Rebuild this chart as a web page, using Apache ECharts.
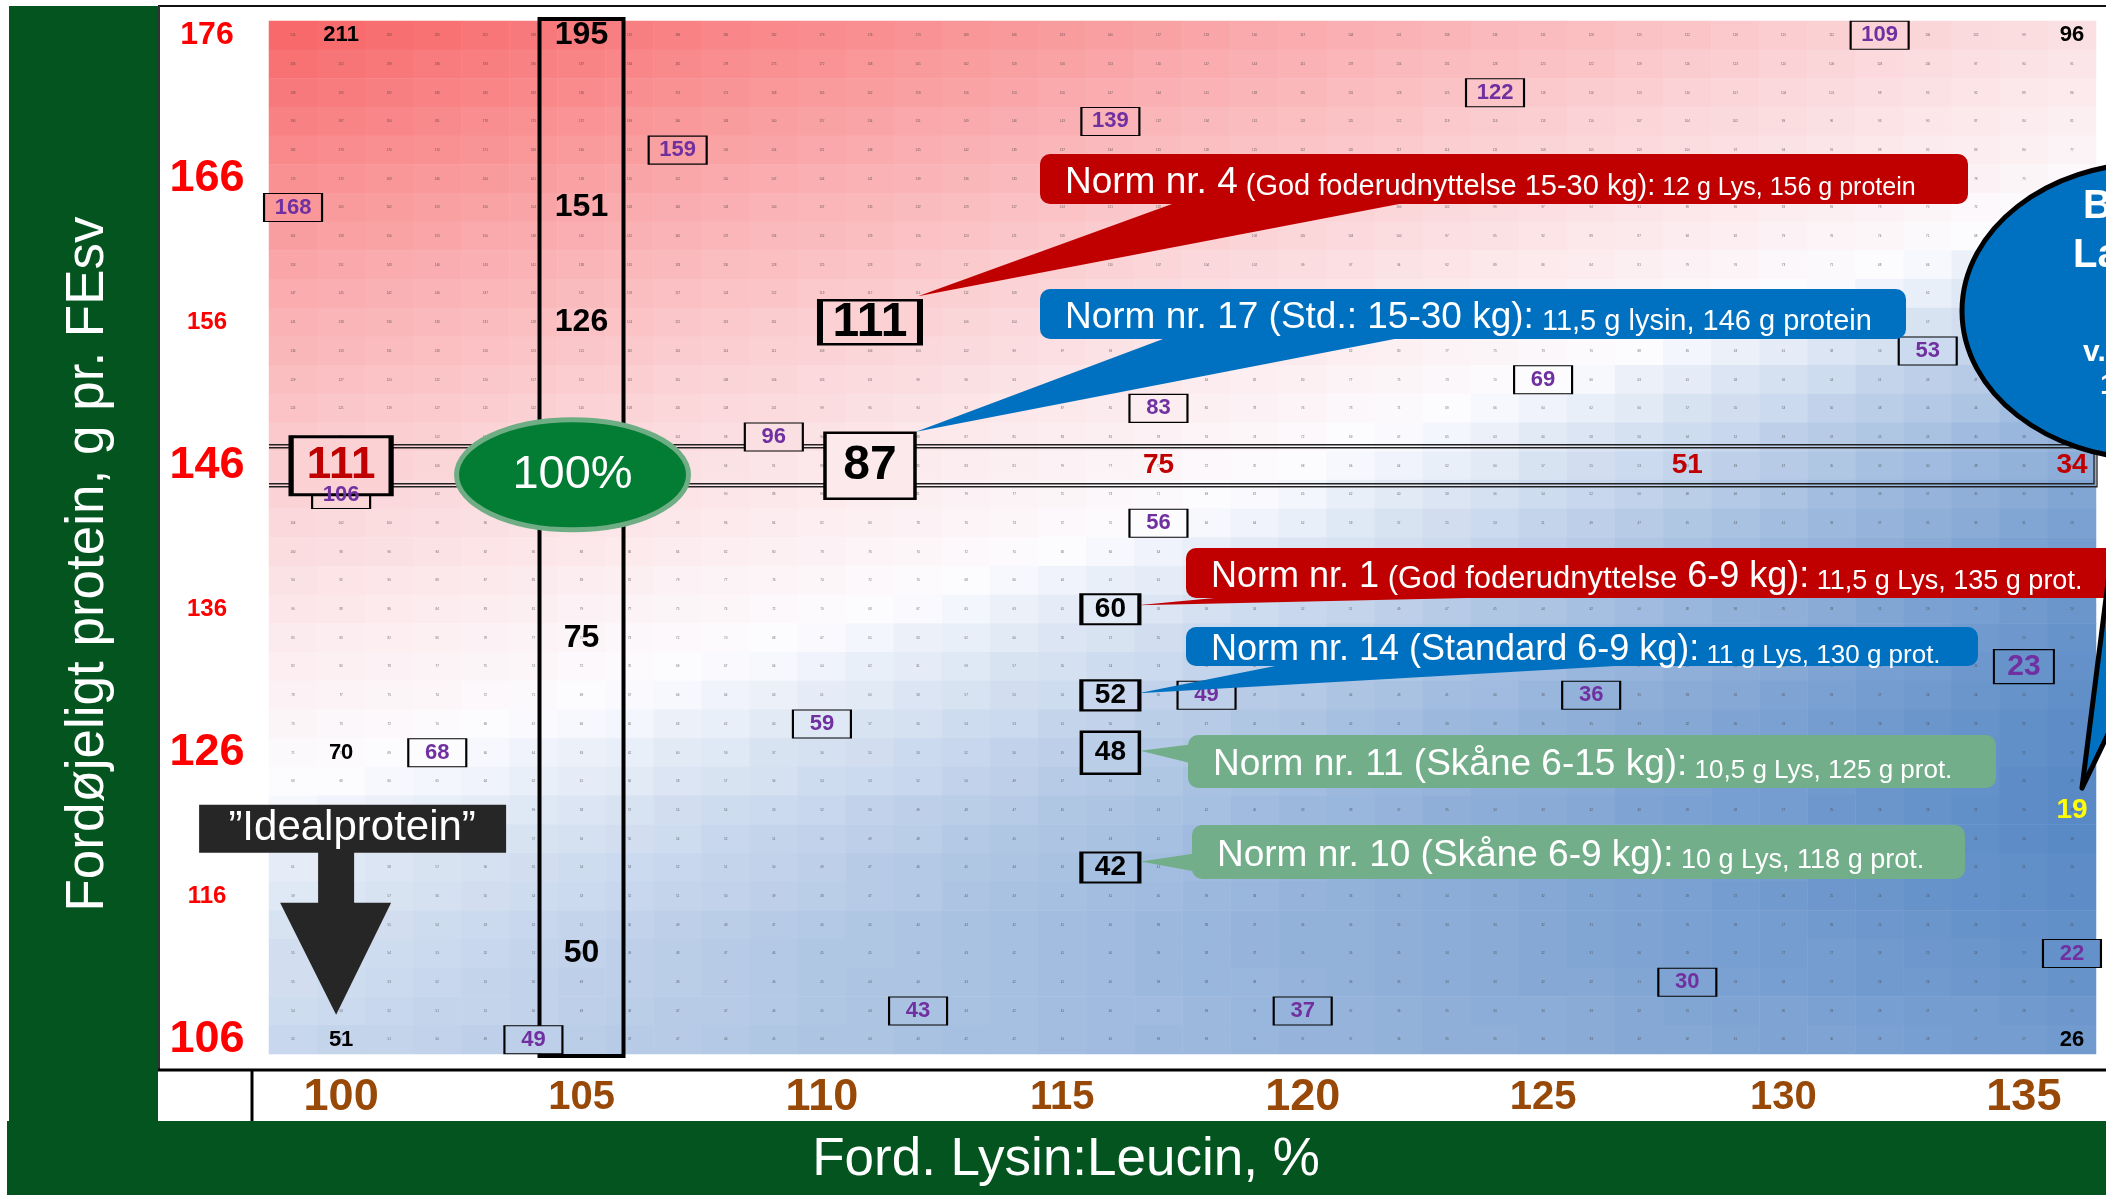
<!DOCTYPE html>
<html><head><meta charset="utf-8">
<script src="https://cdn.jsdelivr.net/npm/echarts@6/dist/echarts.min.js"></script>
<style>html,body{margin:0;padding:0;background:#fff}#c{width:2106px;height:1195px}</style>
</head><body><div id="c"></div>
<script>
// ---------- DATA ----------
const lysLeu = ['99','100','101','102','103','104','105','106','107','108','109','110','111','112','113','114','115','116','117','118','119','120','121','122','123','124','125','126','127','128','129','130','131','132','133','134','135','136'];
const proteinAxis = ['106','108','110','112','114','116','118','120','122','124','126','128','130','132','134','136','138','140','142','144','146','148','150','152','154','156','158','160','162','164','166','168','170','172','174','176'];
const rowProtein = [176,174,172,170,168,166,164,162,160,158,156,154,152,150,148,146,144,142,140,138,136,134,132,130,128,126,124,122,120,118,116,114,112,110,108,106];
// cell values, one row per protein level (top row = 176), columns = lysLeu
const cellValues = [
[214,211,208,205,201,198,195,192,189,185,182,179,176,173,169,166,163,160,157,153,150,147,144,141,138,134,131,128,125,122,118,115,112,109,106,102,99,96],
[206,202,199,196,193,190,187,184,181,178,175,172,168,165,162,159,156,153,150,147,144,141,137,134,131,128,125,122,119,116,113,110,106,103,100,97,94,91],
[198,195,192,189,186,183,180,177,174,171,168,165,162,159,156,153,150,147,144,141,138,135,131,128,125,122,119,116,113,110,107,104,101,98,95,92,89,86],
[190,187,184,181,178,175,172,169,166,163,160,157,154,151,149,146,143,140,137,134,131,128,125,122,119,116,113,110,107,104,102,99,96,93,90,87,84,81],
[182,179,176,174,171,168,165,162,159,156,154,151,148,145,142,139,137,134,131,128,125,122,120,117,114,111,108,105,103,100,97,94,91,88,85,83,80,77],
[175,172,169,166,164,161,158,155,152,150,147,144,141,139,136,133,130,127,125,122,119,116,114,111,108,105,103,100,97,94,91,89,86,83,80,78,75,72],
[168,165,162,159,156,154,151,148,146,143,140,137,135,132,129,127,124,121,118,116,113,110,108,105,102,99,97,94,91,89,86,83,81,78,75,72,70,67],
[161,158,156,153,150,148,145,142,140,137,134,132,129,126,124,121,119,116,113,111,108,105,103,100,97,95,92,89,87,84,82,79,76,74,71,68,66,63],
[153,151,148,146,143,141,138,135,133,130,128,125,123,120,117,115,112,110,107,104,102,99,97,94,92,89,86,84,81,79,76,73,71,68,66,63,61,58],
[147,145,142,140,137,135,132,129,127,124,122,119,117,114,112,109,107,104,102,99,97,94,92,89,87,84,82,79,77,74,72,69,67,64,62,59,57,54],
[141,138,136,133,131,128,126,124,121,119,116,114,111,109,106,104,101,99,97,94,92,89,87,84,82,79,77,75,72,70,67,65,62,60,57,55,52,50],
[136,133,131,128,126,123,121,119,116,114,111,109,106,104,102,99,97,94,92,90,87,85,82,80,77,75,73,70,68,65,63,61,58,56,53,51,48,46],
[129,127,124,122,120,117,115,113,110,108,106,103,101,99,96,94,91,89,87,84,82,80,77,75,73,70,69,66,63,61,58,56,54,51,49,47,44,42],
[124,121,119,117,115,112,110,108,105,103,101,99,96,94,92,89,87,85,83,80,78,76,73,71,69,66,64,62,60,57,55,53,50,48,46,44,41,39],
[118,116,114,112,109,107,105,103,101,98,96,94,92,89,87,85,83,81,78,76,74,72,69,67,65,63,60,58,56,54,52,49,47,45,43,40,38,36],
[113,111,109,106,104,102,100,98,96,94,91,89,87,85,83,81,79,77,75,72,70,68,66,64,62,60,57,55,53,51,49,47,45,42,40,38,36,34],
[109,106,104,102,100,98,96,94,92,90,88,86,83,81,79,77,75,73,71,69,67,65,62,60,58,56,54,52,50,48,46,44,41,39,37,35,33,31],
[104,102,100,98,96,94,92,90,88,86,84,82,80,78,76,74,72,70,68,66,64,62,59,57,55,53,51,49,47,45,43,41,39,37,35,33,31,29],
[100,98,96,94,92,90,88,86,84,82,80,78,76,74,72,70,68,66,64,62,60,58,57,55,53,51,49,47,45,43,41,39,37,35,33,31,29,27],
[94,92,90,89,87,85,83,81,79,77,76,74,72,70,68,66,64,62,61,59,57,55,53,51,49,47,46,44,42,40,38,36,34,32,31,29,27,25],
[90,88,86,84,83,81,79,77,75,74,72,70,68,67,65,63,61,60,58,56,54,52,51,49,47,45,44,42,40,38,36,35,33,31,29,28,26,24],
[85,83,82,80,78,77,75,73,72,70,68,67,65,63,62,60,58,57,55,53,52,50,48,46,45,43,41,40,38,36,35,33,31,30,28,26,25,23],
[82,80,78,77,75,74,72,70,69,67,66,64,62,61,59,57,56,54,53,51,49,48,46,45,43,41,40,38,37,35,33,32,30,28,27,25,23,22],
[78,77,75,74,72,71,69,67,66,64,63,61,60,58,57,55,54,52,50,49,47,46,44,43,41,40,38,36,35,33,32,30,29,27,26,24,23,21],
[75,73,72,70,69,67,66,65,63,62,60,59,57,56,54,53,51,50,48,47,45,44,42,41,39,38,36,35,33,32,30,29,27,26,24,23,21,20],
[71,70,69,68,66,64,63,62,60,59,57,56,55,53,52,50,49,48,46,45,43,42,41,39,38,36,35,34,32,31,29,28,27,25,24,22,21,20],
[69,68,66,65,64,62,61,60,58,57,56,54,53,52,50,49,47,46,45,43,42,41,39,38,37,35,34,33,31,30,28,27,26,24,23,22,20,19],
[66,64,63,62,61,59,58,57,55,54,53,52,50,49,48,47,45,44,43,42,40,39,38,37,35,34,33,32,30,29,28,27,25,24,23,21,20,19],
[63,62,61,60,58,57,56,55,54,52,51,50,49,48,46,45,44,43,42,40,39,38,37,36,35,33,32,31,30,29,27,26,25,24,23,21,20,19],
[61,59,58,57,56,55,54,53,52,51,50,49,47,46,45,44,43,42,41,40,39,38,36,35,34,33,32,31,30,29,28,27,25,24,23,22,21,20],
[59,58,57,56,55,54,53,52,51,50,49,48,47,46,44,43,42,41,40,39,38,37,36,35,34,33,32,31,30,29,27,26,25,24,23,22,21,20],
[57,56,55,54,53,52,51,50,49,48,47,46,45,44,43,42,41,40,39,38,37,36,36,35,34,33,32,31,30,29,28,27,26,25,24,23,22,21],
[55,55,54,53,52,51,50,49,48,47,46,45,45,44,43,42,41,40,39,38,37,36,36,35,34,33,32,31,30,29,28,27,27,26,25,24,23,22],
[55,54,53,52,51,50,49,49,48,47,46,45,44,44,43,42,41,40,39,38,38,37,36,35,34,33,32,32,31,30,29,28,27,26,26,25,24,23],
[54,53,52,51,51,50,49,48,47,47,46,45,44,43,43,42,41,40,40,39,38,37,37,36,35,34,34,33,32,31,30,30,29,28,27,27,26,25],
[52,51,51,50,49,49,48,47,47,46,45,44,44,43,42,42,41,40,39,39,38,37,37,36,35,35,34,33,32,32,31,30,30,29,28,27,27,26]
];
const xTickLabels = [100,105,110,115,120,125,130,135];
const yTickLabels = [106,116,126,136,146,156,166,176];
// highlighted numbers: [lys:leu, protein, value]
const purpleMarks = [[99,164,168],[107,168,159],[116,170,139],[124,172,122],[132,176,109],[109,148,96],[117,150,83],[125,152,69],[133,154,53],[117,142,56],[118,130,49],[110,128,59],[126,130,36],[136,112,22],[112,108,43],[120,108,37],[128,110,30],[102,126,68],[104,106,49],[100,144,106]];
const purpleLargeMarks = [[135,132,23]];
const plainMarks = [[100,176,211],[136,176,96],[100,126,70],[100,106,51],[136,106,26]];
const column105Marks = [[105,176,195],[105,164,151],[105,156,126],[105,134,75],[105,112,50]];
const norm4Mark = [[111,156,111]];
const norm17Mark = [[111,146,87]];
const smallNormMarks = [[116,136,60],[116,130,52],[116,118,42]];
const norm11Mark = [[116,126,48]];
const refRowMark = [[100,146,111]];
const refRowRedMarks = [[117,146,75],[128,146,51],[136,146,34]];
const minMark = [[136,122,19]];

// ---------- STYLE / BUILD ----------
const FONT = '"Liberation Sans", Arial, Helvetica, sans-serif';
const VMIN = 19, VMAX = 214;
const scaleHex = ['#5A8AC6','#FCFCFF','#FBCBCE','#F99A9C','#F8696B'];
const scaleRgb = scaleHex.map(h => [1,3,5].map(i => parseInt(h.substr(i,2),16)));
function scaleColor(v){
  let t = (v - VMIN) / (VMAX - VMIN); t = Math.max(0, Math.min(1, t));
  const s = t * (scaleRgb.length - 1); const i = Math.min(Math.floor(s), scaleRgb.length - 2); const f = s - i;
  const a = scaleRgb[i], b = scaleRgb[i+1];
  return 'rgb(' + a.map((c,k) => Math.round(c + (b[k]-c)*f)).join(',') + ')';
}
const xi = x => lysLeu.indexOf(String(x));
const yi = y => proteinAxis.indexOf(String(y));
const cellValue = (x,y) => cellValues[rowProtein.indexOf(y)][xi(x)];

const heatData = [];
rowProtein.forEach((p, r) => cellValues[r].forEach((v, c) => heatData.push([c, yi(p), v])));

function markSeries(marks, o){
  return {
    type:'scatter', z:10, silent:true, animation:false, symbol:'rect', symbolSize:o.box || [1,1],
    data: marks.map(m => [xi(m[0]), yi(m[1]), m[2], m[0], m[1]]),
    itemStyle:{ color: o.box ? (p => scaleColor(cellValue(p.value[3], p.value[4]))) : 'rgba(0,0,0,0)',
      borderColor:'#000', borderWidth:o.border || 0, opacity:1 },
    label:{ show:true, position:'inside', formatter:p => String(p.value[2]), color:o.color,
      fontSize:o.size, fontWeight:'bold', fontFamily:FONT },
    emphasis:{ disabled:true }
  };
}

const ySize = {'176':'mid','166':'big','156':'small','146':'big','136':'small','126':'big','116':'small','106':'big'};
const xSize = {'100':'big','105':'small','110':'big','115':'small','120':'big','125':'small','130':'small','135':'big'};

const chart = echarts.init(document.getElementById('c'), null, {renderer:'canvas', width:2106, height:1195});
const option = {
  animation:false,
  backgroundColor:'#fff',
  grid:{ left:269, right:10, top:21, bottom:141, containLabel:false },
  xAxis:{ type:'category', data:lysLeu, axisLine:{show:false}, axisTick:{show:false}, splitLine:{show:false},
    axisLabel:{ interval:(i,v) => xTickLabels.includes(Number(v)), margin:44, verticalAlign:'middle',
      formatter:v => '{' + xSize[v] + '|' + v + '}',
      rich:{ big:{fontSize:45,fontWeight:'bold',color:'#984807',fontFamily:FONT}, small:{fontSize:40,fontWeight:'bold',color:'#984807',fontFamily:FONT} } } },
  yAxis:{ type:'category', data:proteinAxis, axisLine:{show:false}, axisTick:{show:false}, splitLine:{show:false},
    axisLabel:{ interval:(i,v) => yTickLabels.includes(Number(v)), margin:62, align:'center',
      formatter:v => '{' + ySize[v] + '|' + v + '}',
      rich:{ big:{fontSize:45,fontWeight:'bold',color:'#FF0000',fontFamily:FONT}, mid:{fontSize:32,fontWeight:'bold',color:'#FF0000',fontFamily:FONT}, small:{fontSize:24,fontWeight:'bold',color:'#FF0000',fontFamily:FONT} } } },
  visualMap:{ type:'continuous', show:false, min:VMIN, max:VMAX, dimension:2, seriesIndex:0, inRange:{ color:scaleHex } },
  series:[
    { type:'heatmap', data:heatData, z:2, silent:true, itemStyle:{borderWidth:0},
      label:{ show:true, fontSize:3, color:'rgba(60,60,60,0.75)', fontFamily:FONT, formatter:p => String(p.value[2]) },
      emphasis:{disabled:true} },
    markSeries(purpleMarks, {box:[58,28], border:1.5, color:'#7030A0', size:22}),
    markSeries(purpleLargeMarks, {box:[60,34], border:1.5, color:'#7030A0', size:30}),
    markSeries(plainMarks, {color:'#000', size:22}),
    markSeries(column105Marks, {color:'#000', size:32}),
    markSeries(norm4Mark, {box:[100,44], border:4, color:'#000', size:48}),
    markSeries(norm17Mark, {box:[90,66], border:3, color:'#000', size:48}),
    markSeries(smallNormMarks, {box:[58,30], border:3, color:'#000', size:28}),
    markSeries(norm11Mark, {box:[58,42], border:3, color:'#000', size:28}),
    markSeries(refRowMark, {box:[100,58], border:4, color:'#C00000', size:44}),
    markSeries(refRowRedMarks, {color:'#C00000', size:28}),
    markSeries(minMark, {color:'#FFFF00', size:28})
  ]
};
chart.setOption(option);

// ---------- DECORATION (layout from pixel conversion) ----------
const P = (x,y) => chart.convertToPixel({gridIndex:0}, [xi(x), yi(y)]);
const cw = P(100,146)[0] - P(99,146)[0];
const ch = P(99,146)[1] - P(99,148)[1];
const gTop = P(99,176)[1] - ch/2, gBot = P(99,106)[1] + ch/2;
const gLeft = P(99,146)[0] - cw/2, gRight = P(136,146)[0] + cw/2;
const GREEN = '#03541F';
const g = [];
// frame
g.push({type:'rect', z:0, shape:{x:9,y:6,width:149,height:1189}, style:{fill:GREEN}});
g.push({type:'rect', z:0, shape:{x:7,y:1121,width:2099,height:74}, style:{fill:GREEN}});
g.push({type:'line', z:1, shape:{x1:158,y1:6,x2:2106,y2:6}, style:{stroke:'#111',lineWidth:2}});
g.push({type:'line', z:1, shape:{x1:159,y1:6,x2:159,y2:1071}, style:{stroke:'#333',lineWidth:2}});
g.push({type:'line', z:1, shape:{x1:158,y1:1070,x2:2106,y2:1070}, style:{stroke:'#000',lineWidth:3}});
g.push({type:'line', z:1, shape:{x1:252,y1:1070,x2:252,y2:1121}, style:{stroke:'#000',lineWidth:3}});
// axis titles
g.push({type:'text', z:5, x:88, y:564, rotation:Math.PI/2, style:{text:'Fordøjeligt protein, g pr. FEsv', fill:'#fff', font:'53px ' + FONT, align:'center', verticalAlign:'middle', textAlign:'center', textVerticalAlign:'middle'}});
g.push({type:'text', z:5, x:1066, y:1160, style:{text:'Ford. Lysin:Leucin, %', fill:'#fff', font:'53px ' + FONT, align:'center', verticalAlign:'middle', textAlign:'center', textVerticalAlign:'middle'}});
// 105 column box
const c105 = P(105,146)[0];
g.push({type:'rect', z:5, shape:{x:c105-42, y:gTop-2, width:84, height:gBot-gTop+4}, style:{fill:'none', stroke:'#000', lineWidth:4}});
// 146 row band (double lines, open on the left)
const r146 = P(105,146)[1];
const bandLine = pts => g.push({type:'polyline', z:5, shape:{points:pts}, style:{fill:'none', stroke:'#222', lineWidth:1.3}});
bandLine([[gLeft, r146-21],[gRight+1, r146-21],[gRight+1, r146+21],[gLeft, r146+21]]);
bandLine([[gLeft, r146-18],[gRight-2, r146-18],[gRight-2, r146+18],[gLeft, r146+18]]);
// 100% ellipse
g.push({type:'ellipse', z:20, shape:{cx:c105-9, cy:r146+9, rx:116, ry:55}, style:{fill:'#037C34', stroke:'#6FAE85', lineWidth:5}});
g.push({type:'text', z:21, x:c105-9, y:r146+9, style:{text:'100%', fill:'#fff', font:'47px ' + FONT, align:'center', verticalAlign:'middle', textAlign:'center', textVerticalAlign:'middle'}});
// Idealprotein arrow
const ip = P(100,106); const tx = ip[0]-5, ty = ip[1]-25;
g.push({type:'rect', z:20, shape:{x:tx-137, y:ty-210, width:307, height:48}, style:{fill:'#262626'}});
g.push({type:'rect', z:20, shape:{x:tx-18, y:ty-163, width:36, height:52}, style:{fill:'#262626'}});
g.push({type:'polygon', z:20, shape:{points:[[tx-56,ty-112],[tx+55,ty-112],[tx,ty]]}, style:{fill:'#262626'}});
g.push({type:'text', z:21, x:tx+16, y:ty-186, style:{text:'\u201DIdealprotein\u201D', fill:'#fff', font:'42px ' + FONT, align:'center', verticalAlign:'middle', textAlign:'center', textVerticalAlign:'middle'}});
// callouts
function callout(color, body, tri, tX, text, rich){
  g.push({type:'polygon', z:30, shape:{points:tri}, style:{fill:color}});
  g.push({type:'rect', z:30, shape:{x:body[0], y:body[1], width:body[2], height:body[3], r:10}, style:{fill:color}});
  const r2 = {};
  Object.keys(rich).forEach(k => { r2[k] = {fontSize:rich[k], fill:'#fff', fontFamily:FONT, verticalAlign:'bottom', lineHeight:44}; });
  g.push({type:'text', z:31, x:tX, y:body[1]+body[3]/2, style:{text:text, rich:r2, fill:'#fff', font:'36px ' + FONT, verticalAlign:'middle', textVerticalAlign:'middle'}});
}
const RED = '#C00000', BLUE = '#0070C0', SAGE = '#72AE89';
let t;
t = P(111,156); callout(RED, [1040,154,928,50], [[t[0]+48,t[1]-26],[1183,200],[1420,200]], 1065,
  '{a|Norm nr. 4}{b| (God foderudnyttelse 15-30 kg):}{c| 12 g Lys, 156 g protein}', {a:37,b:29,c:25});
t = P(111,146); callout(BLUE, [1040,289,866,50], [[t[0]+46,t[1]-34],[1171,336],[1410,336]], 1065,
  '{a|Norm nr. 17 (Std.: 15-30 kg):}{c| 11,5 g lysin, 146 g protein}', {a:37,c:29});
t = P(116,136); callout(RED, [1186,548,960,50], [[t[0]+27,t[1]-4],[1257,594],[1650,594]], 1211,
  '{a|Norm nr. 1}{b| (God foderudnyttelse}{a| 6-9 kg):}{c| 11,5 g Lys, 135 g prot.}', {a:36,b:31,c:27});
t = P(116,130); callout(BLUE, [1186,627,792,39], [[t[0]+28,t[1]-2],[1285,664],[1650,664]], 1211,
  '{a|Norm nr. 14 (Standard 6-9 kg):}{c| 11 g Lys, 130 g prot.}', {a:36,c:26});
t = P(116,126); callout(SAGE, [1188,735,808,53], [[t[0]+30,t[1]-2],[1194,744],[1194,764]], 1213,
  '{a|Norm nr. 11 (Skåne 6-15 kg):}{c| 10,5 g Lys, 125 g prot.}', {a:37,c:26});
t = P(116,118); callout(SAGE, [1192,825,773,54], [[t[0]+30,t[1]-6],[1198,853],[1198,872]], 1217,
  '{a|Norm nr. 10 (Skåne 6-9 kg):}{c| 10 g Lys, 118 g prot.}', {a:37,c:27});
// blue ellipse callout (cut at the right edge)
t = P(136,122);
g.push({type:'polygon', z:32, shape:{points:[[t[0]+10,t[1]-22],[2126,440],[2250,440]]}, style:{fill:BLUE, stroke:'#000', lineWidth:5, lineJoin:'round'}});
g.push({type:'ellipse', z:33, shape:{cx:2152, cy:311, rx:190, ry:148}, style:{fill:BLUE, stroke:'#000', lineWidth:5}});
const bt = (s, x, y, sz) => g.push({type:'text', z:34, x:x, y:y, style:{text:s, fill:'#fff', font:'bold ' + sz + 'px ' + FONT, align:'left', verticalAlign:'middle', textAlign:'left', textVerticalAlign:'middle'}});
bt('B', 2083, 207, 40); bt('La', 2073, 256, 40); bt('v.', 2083, 353, 30); bt('1', 2100, 386, 30);

chart.setOption({graphic:{elements:g}});
</script>
</body></html>
